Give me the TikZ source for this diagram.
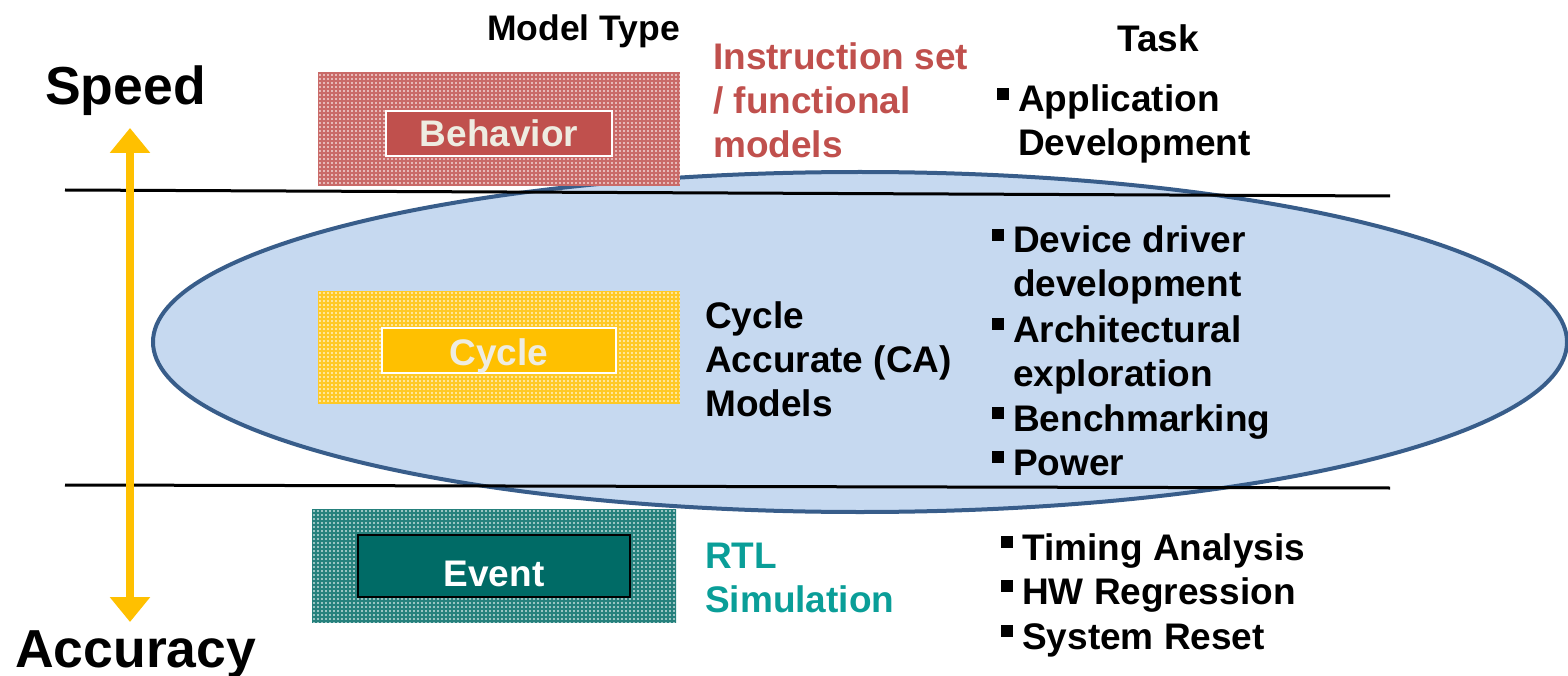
\documentclass[tikz,border=0pt]{standalone}
\usepackage{fontspec}
\setmainfont{Liberation Sans}
\usetikzlibrary{arrows.meta}
\definecolor{bred}{HTML}{C0504D}
\definecolor{byel}{HTML}{FFC000}
\definecolor{bteal}{HTML}{006B66}
\definecolor{rtl}{HTML}{0A9E98}
\definecolor{ellfill}{HTML}{C6D9F0}
\definecolor{elldraw}{HTML}{385D8A}
\definecolor{cream}{HTML}{EEECE1}
\newcommand\meshbox[5]{%
  \begin{scope}
    \clip (#1,#2) rectangle (#3,#4);
    \fill[#5!40!white] (#1,#2) rectangle (#3,#4);
    \foreach \i in {0,4,...,400} \draw[#5!85!white, line width=1.2pt] (#1+\i,#2) -- (#1+\i,#4);
    \foreach \i in {0,4,...,130} \draw[#5!85!white, line width=1.2pt] (#1,#2+\i) -- (#3,#2+\i);
  \end{scope}}
\begin{document}
\begin{tikzpicture}[x=1pt,y=-1pt,
  txt/.style={inner sep=0pt, anchor=base west, font=\fontsize{37}{44}\selectfont\bfseries, align=left},
  big/.style={inner sep=0pt, anchor=base west, font=\fontsize{53.5}{60}\selectfont\bfseries},
  inbox/.style={draw=white, line width=2.5pt, inner sep=0pt},
  intxt/.style={inner sep=0pt, anchor=base, font=\fontsize{37}{44}\selectfont\bfseries},
  bul/.style={fill=black, minimum size=12pt, inner sep=0pt},
  sep/.style={line width=3pt, black}]
\useasboundingbox (0,0) rectangle (1568,676);
% ellipse
\fill[ellfill, draw=elldraw, line width=4pt] (860,342) ellipse [x radius=707, y radius=170];
% boxes
\meshbox{318}{73}{680}{186}{bred}
\meshbox{318}{291}{680}{403}{byel}
\meshbox{312}{509}{676}{623}{bteal}
\node[inbox, fill=bred, minimum width=226pt, minimum height=45pt] (beh) at (499,133.5) {};
\node[intxt, text=cream] (beh-t) at (499,147) {Behavior};
\node[inbox, fill=byel, minimum width=234pt, minimum height=45pt] (cyc) at (499,350.5) {};
\node[intxt, text=cream] (cyc-t) at (499,365) {Cycle};
\node[inbox, draw=black, fill=bteal, minimum width=272pt, minimum height=62pt] (evt) at (494,566) {};
\node[intxt, text=white] (evt-t) at (494,586) {Event};
% separators
\coordinate (t1) at (65,190); \coordinate (t2) at (1390,196);
\coordinate (b1) at (65,485); \coordinate (b2) at (1390,488);
\draw[sep] (t1) -- (t2);
\draw[sep] (b1) -- (b2);
% labels
\node[big] (speed) at (45,105) {Speed};
\node[big] (acc) at (15,667) {Accuracy};
\coordinate (au) at (130,128); \coordinate (ad) at (130,622);
\draw[byel, line width=8pt, {Triangle[width=39pt,length=25pt]}-{Triangle[width=39pt,length=25pt]}] (au) -- (ad);
\node[txt, font=\fontsize{35.5}{42}\selectfont\bfseries] (mt) at (487,41) {Model Type};
\node[txt] (task) at (1117,52) {Task};
\node[txt, text=bred] (isa) at (713,158) {Instruction set\\/ functional\\models};
\node[txt] (ca) at (705,416) {Cycle\\Accurate (CA)\\Models};
\node[txt, text=rtl] (rtlt) at (705,612) {RTL\\Simulation};
% tasks
\node[txt] (t-app) at (1018,156) {Application\\Development};
\node[bul] (b-app) at (1002.5,94) {};
\node[txt] (t-dev) at (1013,297) {Device driver\\development};
\node[bul] (b-dev) at (997.5,235) {};
\node[txt] (t-arch) at (1013,386) {Architectural\\exploration};
\node[bul] (b-arch) at (997.5,324) {};
\node[txt] (t-bench) at (1013,431) {Benchmarking};
\node[bul] (b-bench) at (997.5,413) {};
\node[txt] (t-pow) at (1013,475) {Power};
\node[bul] (b-pow) at (997.5,457) {};
\node[txt] (t-tim) at (1022,560) {Timing Analysis};
\node[bul] (b-tim) at (1006.5,542) {};
\node[txt] (t-hw) at (1022,604) {HW Regression};
\node[bul] (b-hw) at (1006.5,586) {};
\node[txt] (t-sys) at (1022,649) {System Reset};
\node[bul] (b-sys) at (1006.5,631) {};
\end{tikzpicture}
\end{document}
